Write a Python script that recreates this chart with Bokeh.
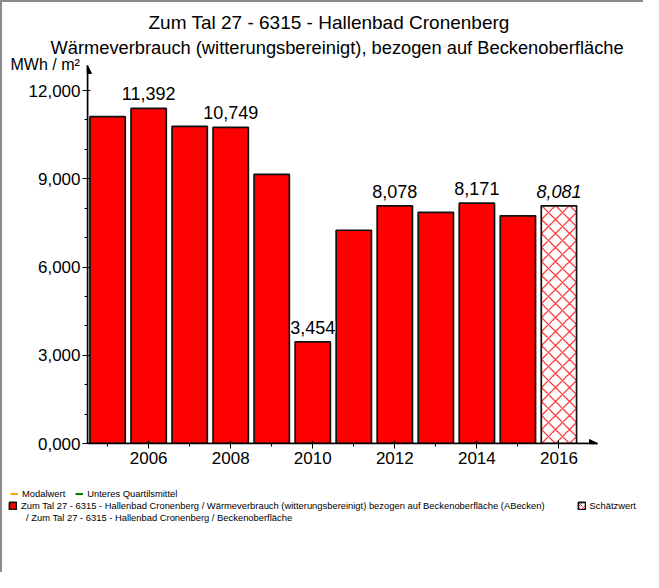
from bokeh.plotting import figure
from bokeh.layouts import column, row
from bokeh.models import (ColumnDataSource, Range1d, FixedTicker, LabelSet, Title,
                          Arrow, NormalHead, Legend, LegendItem)
from bokeh.core.properties import value
from bokeh.embed import file_html
from bokeh.resources import INLINE

# ---- data ----
years_actual = [2005, 2006, 2007, 2008, 2009, 2010, 2011, 2012, 2013, 2014, 2015]
values_actual = [11110, 11392, 10780, 10749, 9150, 3454, 7250, 8078, 7860, 8171, 7740]
years_estimate = [2016]
values_estimate = [8081]
labeled_years = [2006, 2008, 2010, 2012, 2014]
y_ticks = [0, 3000, 6000, 9000, 12000]
y_minor = [1000, 2000, 4000, 5000, 7000, 8000, 10000, 11000]
y_tick_labels = ["0,000", "3,000", "6,000", "9,000", "12,000"]
x_tick_years = [2006, 2008, 2010, 2012, 2014, 2016]

title1 = "Zum Tal 27 - 6315 - Hallenbad Cronenberg"
title2 = "Wärmeverbrauch (witterungsbereinigt), bezogen auf Beckenoberfläche"
unit = "MWh / m²"
legend_mod = "Modalwert"
legend_uq = "Unteres Quartilsmittel"
legend_main = "Zum Tal 27 - 6315 - Hallenbad Cronenberg / Wärmeverbrauch (witterungsbereinigt) bezogen auf Beckenoberfläche (ABecken)"
legend_main2 = "/ Zum Tal 27 - 6315 - Hallenbad Cronenberg / Beckenoberfläche"
legend_est = "Schätzwert"

FONT = "Liberation Sans"
B = 2                      # frame line around the picture (top / left)
W = 643 - B
H1 = 475 - B
H2 = 97
FL, FR, FT, FB = 87 - B, 597 - B, 65 - B, 443 - B  # frame edges in canvas px

x0, x1 = 2004.51, 2016.94
y0, y1 = 0, 12850
NAN = float("nan")

BAR_STYLE = dict(fill_color="#ff0000", line_color="#111111", line_width=1.7)
EST_STYLE = dict(fill_color="white", hatch_pattern="diagonal_cross", hatch_color="#ff4040",
                 hatch_scale=14, hatch_weight=1.3, line_color="#111111", line_width=1.7)

p = figure(width=W, height=H1, output_backend="svg", toolbar_location=None,
           x_range=Range1d(x0, x1), y_range=Range1d(y0, y1),
           min_border_left=FL, min_border_right=W - FR,
           min_border_top=FT, min_border_bottom=H1 - FB)
p.title = None
p.outline_line_color = None
p.grid.visible = False

src_a = ColumnDataSource(dict(x=years_actual, top=values_actual,
                              lbl=[f"{v:,}" if y in labeled_years else "" for y, v in zip(years_actual, values_actual)]))
src_e = ColumnDataSource(dict(x=years_estimate, top=values_estimate,
                              lbl=[f"{v:,}" for v in values_estimate]))

p.vbar(x="x", top="top", width=0.86, source=src_a, **BAR_STYLE)
p.vbar(x="x", top="top", width=0.86, source=src_e, **EST_STYLE)

p.add_layout(LabelSet(x="x", y="top", text="lbl", source=src_a, text_align="center",
                      text_baseline="bottom", y_offset=8, text_font=value(FONT),
                      text_font_size=value("18px"), text_color="black",
                      background_fill_color="white"))
p.add_layout(LabelSet(x="x", y="top", text="lbl", source=src_e, text_align="center",
                      text_baseline="bottom", y_offset=8, text_font=value(FONT),
                      text_font_size=value("18px"), text_font_style="italic",
                      text_color="black"))

# axes
ya = p.yaxis[0]
ya.ticker = FixedTicker(ticks=y_ticks, minor_ticks=y_minor)
ya.major_label_overrides = {t: s for t, s in zip(y_ticks, y_tick_labels)}
xa = p.xaxis[0]
xa.ticker = FixedTicker(ticks=x_tick_years, minor_ticks=years_actual)
for ax in (xa, ya):
    ax.axis_line_width = 1.5
    ax.axis_line_color = "black"
    ax.major_tick_line_color = "black"
    ax.minor_tick_line_color = "black"
    ax.major_tick_out = 5
    ax.major_tick_in = 3
    ax.minor_tick_out = 3
    ax.minor_tick_in = 0
    ax.major_label_text_font = FONT
    ax.major_label_text_font_size = "17px"
    ax.major_label_text_color = "black"
ya.major_label_standoff = 2
xa.major_label_standoff = 3

# arrow heads at axis ends
p.add_layout(Arrow(x_start=x0, y_start=y0, x_end=x0, y_end=y1, line_width=1.5,
                   end=NormalHead(size=8, fill_color="black", line_color="black")))
p.add_layout(Arrow(x_start=x0, y_start=y0, x_end=x1, y_end=y0, line_width=1.5,
                   end=NormalHead(size=8, fill_color="black", line_color="black")))

# titles (closest to the frame first); offsets relative to the frame's left edge
p.add_layout(Title(text=unit, align="left", offset=10 - 87, standoff=-14, text_color="black",
                   text_font=FONT, text_font_size="16px", text_font_style="normal"), "above")
p.add_layout(Title(text=title2, align="left", offset=50 - 87, standoff=5, text_color="black",
                   text_font=FONT, text_font_size="18.3px", text_font_style="normal"), "above")
p.add_layout(Title(text=title1, align="left", offset=148 - 87, standoff=-1, text_color="black",
                   text_font=FONT, text_font_size="19px", text_font_style="normal"), "above")

# ---- legend area (separate panel below) ----
q = figure(width=W, height=H2, output_backend="svg", toolbar_location=None,
           x_range=Range1d(0, 1), y_range=Range1d(0, 1),
           x_axis_location=None, y_axis_location=None,
           min_border_left=0, min_border_right=0, min_border_top=0, min_border_bottom=0)
q.title = None
q.outline_line_color = None
q.grid.visible = False

lo = q.line(x=[NAN], y=[NAN], line_color="#ffa500", line_width=2)
lg = q.line(x=[NAN], y=[NAN], line_color="#008000", line_width=2)
lb = q.vbar(x=[NAN], top=[NAN], width=1, **BAR_STYLE)
le = q.vbar(x=[NAN], top=[NAN], width=1, **{**EST_STYLE, "hatch_scale": 6, "hatch_weight": 1})
ld = q.line(x=[NAN], y=[NAN], line_alpha=0)

def row_bottom(center_y):
    # page y of a row centre -> legend bottom measured up from the legend panel bottom
    return H2 - (center_y - (H1 + B)) - 5.5

leg1 = Legend(items=[LegendItem(label=legend_mod, renderers=[lo]),
                     LegendItem(label=legend_uq, renderers=[lg])],
              orientation="horizontal", location=(10 - B, row_bottom(493)))
leg2 = Legend(items=[LegendItem(label=legend_main, renderers=[lb]),
                     LegendItem(label=legend_est, renderers=[le])],
              orientation="horizontal", location=(8 - B, row_bottom(505)))
leg3 = Legend(items=[LegendItem(label=legend_main2, renderers=[ld])],
              orientation="horizontal", location=(26 - B, row_bottom(517)))
for lgd, sp in ((leg1, 10), (leg2, 32), (leg3, 0)):
    lgd.label_text_font = FONT
    lgd.label_text_font_size = "9.4px"
    lgd.label_text_color = "black"
    lgd.glyph_width = 9
    lgd.glyph_height = 9
    lgd.label_standoff = 4
    lgd.spacing = sp
    lgd.padding = 0
    lgd.margin = 0
    lgd.border_line_color = None
    lgd.background_fill_alpha = 0
    lgd.label_height = 9
    q.add_layout(lgd, "center")
leg1.glyph_width = 8
leg3.glyph_width = 0
leg3.label_standoff = 0

layout = column(p, row(q), spacing=0,
                styles={"border-top": f"{B}px solid #8c8c8c", "border-left": f"{B}px solid #8c8c8c"})
open("out.html", "w").write(file_html(layout, INLINE))
